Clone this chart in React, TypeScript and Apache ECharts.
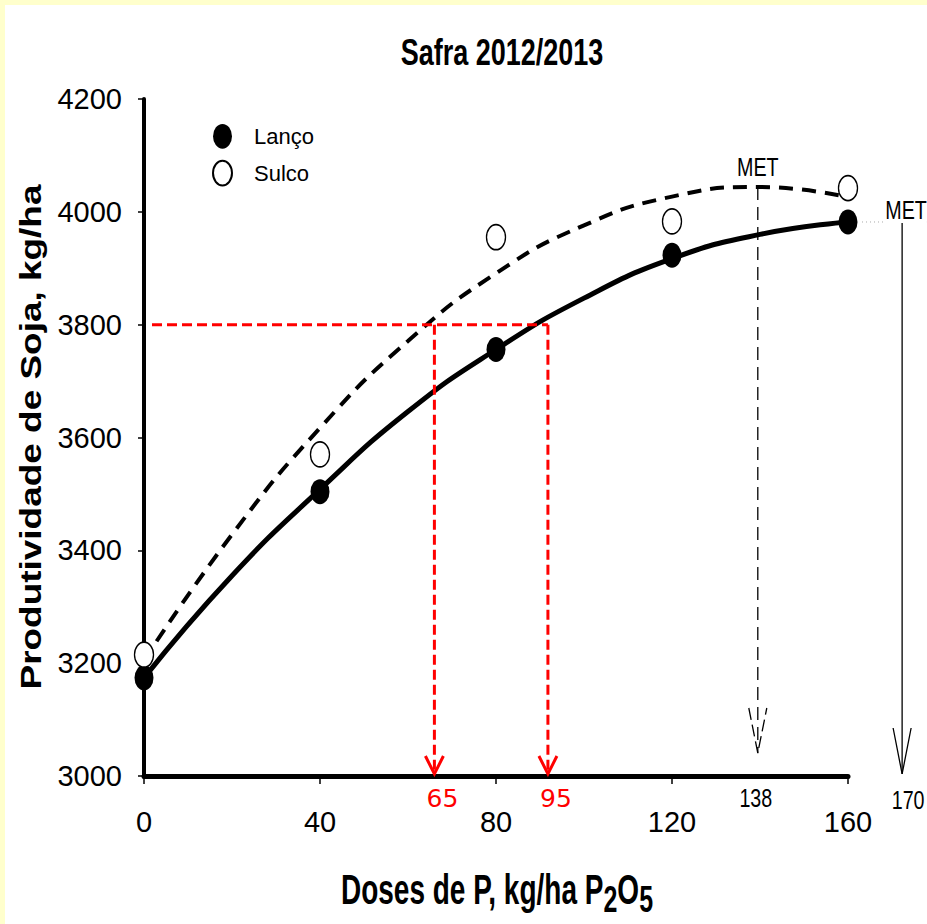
import React, { useEffect, useRef } from 'react';
import * as echarts from 'echarts';

// ---- Data ----
const doses = [0, 40, 80, 120, 160];
const lancoValues = [3174, 3504, 3756, 3923, 3982];
const sulcoValues = [3215, 3570, 3955, 3983, 4042];

// fitted curves
const curveDoses = [0, 20, 40, 60, 80, 100, 120, 140, 160];
const lancoCurve = [3174, 3355, 3508, 3646, 3756, 3847, 3917, 3960, 3982];
const sulcoCurve = [3205, 3428, 3617, 3771, 3891, 3976, 4027, 4044, 4026];

const seriesNames = ['Lanço', 'Sulco'];
const chartTitle = 'Safra 2012/2013';
const yTitle = 'Produtividade de Soja, kg/ha';
const xTitleParts = [
  { t: 'Doses de P, kg/ha P', sub: false },
  { t: '2', sub: true },
  { t: 'O', sub: false },
  { t: '5', sub: true },
];

// annotations
const targetYield = 3800;
const redArrowDoses = [66, 91.8];
const redArrowLabels = ['65', '95'];
const metSulcoDose = 139.5;
const metSulcoTop = 4044;
const metSulcoLabel = '138';
const metLancoDose = 172.3;
const metLancoTop = 3982;
const metLancoLabel = '170';
const metText = 'MET';

const arial = '"Liberation Sans", Arial, sans-serif';
const ellipse = 'path://M10,0 A10,13 0 1,1 10,26 A10,13 0 1,1 10,0 Z';

function measure(text: string, font: string): number {
  const c = document.createElement('canvas').getContext('2d');
  if (!c) return text.length * 14;
  c.font = font;
  return c.measureText(text).width;
}

export default function App() {
  const ref = useRef<HTMLDivElement>(null);

  useEffect(() => {
    if (!ref.current) return;
    const chart = echarts.init(ref.current, null, { renderer: 'svg' });

    const option: any = {
      animation: false,
      backgroundColor: 'transparent',
      grid: { left: 144, right: 79, top: 99, bottom: 148 },
      legend: {
        orient: 'vertical',
        left: 207,
        top: 119,
        itemWidth: 19,
        itemHeight: 25,
        itemGap: 11,
        icon: ellipse,
        data: seriesNames,
        textStyle: { fontFamily: arial, fontSize: 22, color: '#000', padding: [0, 0, 0, 17] },
        selectedMode: false,
      },
      xAxis: {
        type: 'value',
        min: 0,
        max: 160,
        interval: 40,
        splitLine: { show: false },
        axisLine: { lineStyle: { color: '#000', width: 5 } },
        axisTick: { show: true, length: 8, lineStyle: { color: '#000', width: 1.5 } },
        axisLabel: { color: '#000', fontFamily: arial, fontSize: 29, margin: 31, formatter: (v: number) => String(v) },
      },
      yAxis: {
        type: 'value',
        min: 3000,
        max: 4200,
        interval: 200,
        splitLine: { show: false },
        axisLine: { show: true, lineStyle: { color: '#000', width: 4 } },
        axisTick: { show: true, length: 6, lineStyle: { color: '#000', width: 1.5 } },
        axisLabel: { color: '#000', fontFamily: arial, fontSize: 29, margin: 22, formatter: (v: number) => String(v) },
      },
      series: [
        {
          name: 'lancoFit',
          type: 'line',
          data: curveDoses.map((d, i) => [d, lancoCurve[i]]),
          smooth: true,
          showSymbol: false,
          silent: true,
          lineStyle: { color: '#000', width: 5 },
          z: 2,
        },
        {
          name: 'sulcoFit',
          type: 'line',
          data: curveDoses.map((d, i) => [d, sulcoCurve[i]]),
          smooth: true,
          showSymbol: false,
          silent: true,
          lineStyle: { color: '#000', width: 4, type: [14, 9] },
          z: 2,
        },
        {
          name: seriesNames[0],
          type: 'scatter',
          symbol: ellipse,
          symbolSize: [19, 25],
          data: doses.map((d, i) => [d, lancoValues[i]]),
          itemStyle: { color: '#000', opacity: 1 },
          z: 5,
          clip: false,
        },
        {
          name: seriesNames[1],
          type: 'scatter',
          symbol: ellipse,
          symbolSize: [19, 25],
          data: doses.map((d, i) => [d, sulcoValues[i]]),
          itemStyle: { color: '#fff', borderColor: '#000', borderWidth: 1.5, opacity: 1 },
          z: 5,
          clip: false,
        },
      ],
    };
    chart.setOption(option);

    const P = (x: number, y: number) => chart.convertToPixel({ gridIndex: 0 }, [x, y]) as number[];
    const axisY = P(0, 3000)[1];
    const g: any[] = [];
    const red = '#FF0000';
    const narrowText = (text: string, x: number, y: number, fs: number, extra: any = {}) => ({
      type: 'text', x, y, scaleX: 0.82, scaleY: 1.08, silent: true, z: 12,
      style: { text, fontFamily: arial, fontSize: fs, fill: '#000', align: 'center', verticalAlign: 'middle', ...extra },
    });

    // title
    g.push({
      type: 'text', x: 502, y: 52, scaleY: 1.4, silent: true,
      style: { text: chartTitle, fontFamily: arial, fontWeight: 'bold', fontSize: 27, fill: '#000', align: 'center', verticalAlign: 'middle' },
    });
    // y title
    g.push({
      type: 'text', x: 31, y: 437, rotation: Math.PI / 2, scaleX: 1.32, scaleY: 1.05, silent: true,
      style: { text: yTitle, fontFamily: arial, fontWeight: 'bold', fontSize: 28, fill: '#000', align: 'center', verticalAlign: 'middle' },
    });
    // x title with subscripts
    const mainFs = 28, subFs = 25;
    const widths = xTitleParts.map((p) => measure(p.t, `bold ${p.sub ? subFs : mainFs}px "Liberation Sans"`));
    const total = widths.reduce((a, b) => a + b, 0);
    let cur = -total / 2;
    const kids: any[] = [];
    xTitleParts.forEach((p, i) => {
      const fs = p.sub ? subFs : mainFs;
      const baseline = p.sub ? 5.5 : 0;
      kids.push({
        type: 'text', x: cur, y: baseline - 0.3465 * fs, silent: true,
        style: { text: p.t, fontFamily: arial, fontWeight: 'bold', fontSize: fs, fill: '#000', align: 'left', verticalAlign: 'middle' },
      });
      cur += widths[i];
    });
    g.push({ type: 'group', x: 497, y: 904, scaleY: 1.5, children: kids });

    // red target lines
    const hStart = P(0, targetYield);
    const hEnd = P(redArrowDoses[redArrowDoses.length - 1], targetYield);
    g.push({
      type: 'line', silent: true, z: 10,
      shape: { x1: hStart[0] + 8, y1: hStart[1], x2: hEnd[0], y2: hEnd[1] },
      style: { stroke: red, lineWidth: 3, lineDash: [10, 5] },
    });
    redArrowDoses.forEach((d, i) => {
      const top = P(d, targetYield);
      const tip = axisY - 2;
      g.push({
        type: 'line', silent: true, z: 10,
        shape: { x1: top[0], y1: top[1], x2: top[0], y2: tip - 4 },
        style: { stroke: red, lineWidth: 3, lineDash: [10, 5] },
      });
      g.push({
        type: 'polyline', silent: true, z: 10,
        shape: { points: [[top[0] - 9, tip - 18], [top[0], tip], [top[0] + 9, tip - 18]] },
        style: { stroke: red, lineWidth: 3, fill: 'none' },
      });
      g.push({
        type: 'text', x: top[0] + 8, y: axisY + 22, silent: true,
        style: { text: redArrowLabels[i], fontFamily: '"DejaVu Sans", sans-serif', fontSize: 25, fill: red, align: 'center', verticalAlign: 'middle' },
      });
    });

    // MET dashed (Sulco)
    const ms = P(metSulcoDose, metSulcoTop);
    const msTip = axisY - 23;
    g.push({
      type: 'line', silent: true, z: 10,
      shape: { x1: ms[0], y1: ms[1], x2: ms[0], y2: msTip },
      style: { stroke: '#000', lineWidth: 1.3, lineDash: [13, 7] },
    });
    g.push({
      type: 'polyline', silent: true, z: 10,
      shape: { points: [[ms[0] - 9, msTip - 45], [ms[0], msTip], [ms[0] + 9, msTip - 45]] },
      style: { stroke: '#000', lineWidth: 1.3, fill: 'none', lineDash: [12, 5] },
    });
    g.push(narrowText(metText, ms[0], ms[1] - 20, 24));
    g.push(narrowText(metSulcoLabel, ms[0] - 2, axisY + 22, 24));

    // MET solid (Lanço)
    const ml = P(metLancoDose, metLancoTop);
    const end160 = P(160, metLancoTop);
    const mlTip = axisY - 2;
    g.push({
      type: 'line', silent: true, z: 1,
      shape: { x1: end160[0] + 14, y1: end160[1], x2: 927, y2: end160[1] },
      style: { stroke: '#aaaaaa', lineWidth: 1, lineDash: [1, 3] },
    });
    g.push({
      type: 'line', silent: true, z: 10,
      shape: { x1: ml[0], y1: ml[1], x2: ml[0], y2: mlTip },
      style: { stroke: '#000', lineWidth: 1.3 },
    });
    g.push({
      type: 'polyline', silent: true, z: 10,
      shape: { points: [[ml[0] - 9, mlTip - 46], [ml[0], mlTip], [ml[0] + 9, mlTip - 46]] },
      style: { stroke: '#000', lineWidth: 1.3, fill: 'none' },
    });
    g.push(narrowText(metText, ml[0] + 4, ml[1] - 12, 24, { backgroundColor: '#fff' }));
    g.push(narrowText(metLancoLabel, ml[0] + 6, axisY + 24, 24));

    chart.setOption({ graphic: g });

    return () => chart.dispose();
  }, []);

  return (
    <div
      ref={ref}
      style={{
        position: 'absolute',
        left: 0,
        top: 0,
        width: 927,
        height: 924,
        background: 'linear-gradient(#ffffff, #ffffff) 5px 5px / 922px 919px no-repeat, #ffffcc',
      }}
    />
  );
}
